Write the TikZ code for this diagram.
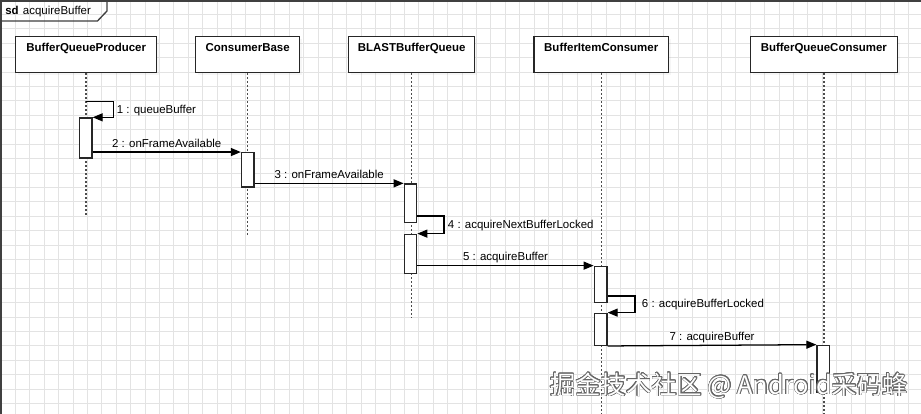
\documentclass[tikz,border=0pt]{standalone}
\usepackage{fontspec}
\setmainfont{Liberation Sans}
\newfontfamily\cjkfont{Noto Sans CJK SC}
\usepackage{contour}
\contourlength{0.45pt}
\usetikzlibrary{arrows.meta,shadows,fit,calc}
\newcommand{\fs}{\fontsize{8.6pt}{10pt}\selectfont}
\begin{document}
\begin{tikzpicture}[x=0.75pt,y=-0.75pt,
  gridline/.style={draw=black!11, line width=0.6pt},
  framestyle/.style={draw=black!75, line width=1pt},
  hdr/.style={draw=black!85, fill=white, line width=1pt, font=\bfseries\fs, inner sep=0pt,
    text height=11.5pt, text depth=15.5pt, anchor=north west,
    drop shadow={opacity=0.07, shadow xshift=2pt, shadow yshift=-2pt}},
  lifeline/.style={draw=black!70, line width=1.1pt, dash pattern=on 1.5pt off 1.5pt},
  act/.style={draw=black!85, fill=white, line width=1pt, inner sep=0pt},
  msg/.style={draw=black, line width=0.95pt, -{Triangle[length=7.5pt,width=6pt]}},
  lbl/.style={font=\fs, inner sep=0pt},
  mlbl/.style={font=\fs, inner sep=0pt, anchor=base, yshift=3.6pt}]
\useasboundingbox (0,0) rectangle (921,414);
\fill[white] (0,0) rectangle (921,414);
% grid
\foreach \k in {0,...,63} \draw[gridline] ({0.9+\k*14.41},0) -- ({0.9+\k*14.41},414);
\foreach \j in {1,...,28} \draw[gridline] (0,{\j*14.41}) -- (921,{\j*14.41});
% frame
\draw[framestyle] (1,414) -- (1,1) -- (921,1);
\draw[framestyle] (1,21) -- (97.5,21) -- (107,11) -- (107,1);
\node[lbl, anchor=base west] (sdtitle) at (5,14.2) {\textbf{sd}\hspace{3.2pt}acquireBuffer};
% headers
\node[hdr, minimum width=105.75pt] (pH) at (15,35.7) {BufferQueueProducer};
\node[hdr, minimum width=78pt] (cH) at (195,35.7) {ConsumerBase};
\node[hdr, minimum width=94.5pt] (bH) at (348,35.7) {BLASTBufferQueue};
\node[hdr, minimum width=100.9pt] (iH) at (533.3,35.7) {BufferItemConsumer};
\node[hdr, minimum width=110.25pt] (qH) at (749.7,35.7) {BufferQueueConsumer};
% lifelines
\coordinate (pE) at (pH.south |- 0,215);
\coordinate (cE) at (cH.south |- 0,235);
\coordinate (bE) at (bH.south |- 0,318);
\coordinate (iE) at (iH.south |- 0,414);
\coordinate (qE) at (qH.south |- 0,414);
\draw[lifeline] (pH.south) -- (pE);
\draw[lifeline] (cH.south) -- (cE);
\draw[lifeline] (bH.south) -- (bE);
\draw[lifeline] (iH.south) -- (iE);
\draw[lifeline] (qH.south) -- (qE);
% activations
\node[act, fit={(79.5,118) (92,158)}] (pA) {};
\node[act, fit={(241.5,152.7) (254,187)}] (cA) {};
\node[act, fit={(404.3,184) (416.7,222.7)}] (bA1) {};
\node[act, fit={(404.3,234.3) (416.7,273.3)}] (bA2) {};
\node[act, fit={(594.3,266.3) (607,302.3)}] (iA1) {};
\node[act, fit={(594.3,313.3) (607,345.3)}] (iA2) {};
\node[act, fit={(817,345.3) (829.7,392)}] (qA) {};
% messages
\draw[msg] ($(pH.south)+(0,28.3)$) -- ++(27.5,0) |- (pA.north east);
\node[lbl, anchor=base west] (l1) at (116.5,113.4) {1 : queueBuffer};
\draw[msg] (pA.east |- cA.north) -- node[mlbl] (l2) {2 : onFrameAvailable} (cA.north west);
\draw[msg] (cA.east |- bA1.north) -- node[mlbl] (l3) {3 : onFrameAvailable} (bA1.north west);
\draw[msg] ($(bA1.south east)+(0,-7.4)$) -- ++(26.6,0) |- (bA2.north east);
\node[lbl, anchor=base west] (l4) at (447.7,228.1) {4 : acquireNextBufferLocked};
\draw[msg] (bA2.east |- iA1.north) -- node[mlbl] (l5) {5 : acquireBuffer} (iA1.north west);
\draw[msg] ($(iA1.south east)+(0,-7)$) -- ++(27.3,0) |- (iA2.north east);
\node[lbl, anchor=base west] (l6) at (641.7,307.1) {6 : acquireBufferLocked};
\draw[msg] (iA2.south east) -- node[mlbl] (l7) {7 : acquireBuffer} (qA.north west);
% watermark
\node[anchor=base west, inner sep=0pt, text=white, font=\cjkfont\fontsize{19pt}{21pt}\selectfont] (wm) at (550,394) {\contour{black!60}{掘金技术社区 @ Android采码蜂}};
\end{tikzpicture}
\end{document}
